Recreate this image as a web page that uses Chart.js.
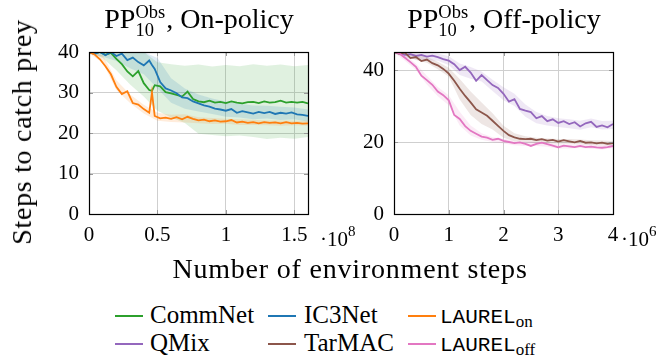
<!DOCTYPE html>
<html><head><meta charset="utf-8">
<script src="https://cdn.jsdelivr.net/npm/chart.js@4/dist/chart.umd.min.js"></script>
<style>
body{margin:0;width:665px;height:362px;background:#fff;position:relative;overflow:hidden;font-family:"Liberation Serif",serif;color:#000}
.cv{position:absolute;top:0}
.abs{position:absolute;white-space:nowrap;line-height:1}
.title{font-size:28px}
.ss{display:inline-block;font-size:0.66em;line-height:1;vertical-align:-8px;text-align:left;margin-right:1px}
.ss span{display:block}
.mult{font-size:21px}
.mult sup{font-size:15px;position:relative;top:-2px}
.leg{font-size:25px}
.lline{position:absolute;height:2px;width:28px}
.tt{font-family:"Liberation Mono",monospace;font-size:21px}
.tt sub{font-family:"Liberation Serif",serif;font-size:17px;position:relative;top:1px;vertical-align:-3px}
</style></head>
<body>
<canvas id="c1" class="cv" width="335" height="260" style="left:0"></canvas>
<canvas id="c2" class="cv" width="330" height="260" style="left:335px"></canvas>

<div class="abs title" style="left:199px;top:3px;transform:translateX(-50%)">PP<span class="ss"><span>Obs</span><span>10</span></span>, On-policy</div>
<div class="abs title" style="left:504px;top:3px;transform:translateX(-50%)">PP<span class="ss"><span>Obs</span><span>10</span></span>, Off-policy</div>

<div class="abs mult" style="left:320px;top:226px">·10<sup>8</sup></div>
<div class="abs mult" style="left:621px;top:226px">·10<sup>6</sup></div>

<div class="abs" style="font-size:28px;letter-spacing:0.8px;left:350px;top:255px;transform:translateX(-50%)">Number of environment steps</div>
<div class="abs" style="font-size:28px;letter-spacing:0.7px;left:22px;top:132px;transform:translate(-50%,-50%) rotate(-90deg)">Steps to catch prey</div>

<div class="lline" style="left:115px;top:315px;background:#2ca02c"></div>
<div class="abs leg" style="left:150px;top:302px">CommNet</div>
<div class="lline" style="left:268px;top:315px;background:#1f77b4"></div>
<div class="abs leg" style="left:304px;top:302px">IC3Net</div>
<div class="lline" style="left:408px;top:315px;background:#ff7f0e"></div>
<div class="abs leg" style="left:440px;top:302px"><span class="tt">LAUREL<sub>on</sub></span></div>

<div class="lline" style="left:115px;top:343px;background:#9467bd"></div>
<div class="abs leg" style="left:150px;top:330px">QMix</div>
<div class="lline" style="left:268px;top:343px;background:#8c564b"></div>
<div class="abs leg" style="left:304px;top:330px">TarMAC</div>
<div class="lline" style="left:408px;top:343px;background:#e377c2"></div>
<div class="abs leg" style="left:440px;top:330px"><span class="tt">LAUREL<sub>off</sub></span></div>

<script>
// ---------- Left panel: On-policy (x in units of 1e8 env steps) ----------
const leftX = [0,0.04,0.08,0.12,0.16,0.2,0.24,0.28,0.32,0.36,0.4,0.44,0.46,0.48,0.52,0.56,0.6,0.64,0.68,0.72,0.76,0.8,0.84,0.88,0.92,0.96,1,1.04,1.08,1.12,1.16,1.2,1.24,1.28,1.32,1.36,1.4,1.44,1.48,1.52,1.56,1.6];
const commNet = [40,39.6,40,39.3,39.8,38.3,37.0,35.2,34.0,35.3,32.3,30.6,30.4,31.8,31.5,30.1,29.8,29.4,29.0,30.2,28.4,27.8,27.6,28.0,27.5,27.7,27.4,27.8,27.5,27.3,27.6,27.7,27.4,27.8,27.5,27.6,28.0,27.5,27.7,27.5,27.7,27.3];
const ic3Net = [40,39.5,40,39.2,40,39.0,39.6,38.0,38.6,37.5,36.7,37.9,36.8,35.8,32.6,31.0,30.5,29.8,28.8,28.6,27.8,27.3,26.8,26.5,26.0,25.8,25.5,25.9,25.0,25.4,25.1,24.8,25.2,24.9,25.2,24.7,25.0,24.8,25.1,24.6,24.5,24.2];
const laurelOn = [40,39.4,38.2,36.5,34.5,31.4,29.6,30.3,27.4,27.0,25.9,25.0,30.0,24.2,23.6,23.8,23.5,23.9,23.4,24.0,23.5,23.1,23.3,22.9,23.1,22.8,22.9,23.2,22.6,22.8,22.5,22.7,22.4,22.7,22.5,22.6,22.4,22.7,22.4,22.5,22.3,22.4];

const bandXL = [0,0.1,0.2,0.3,0.4,0.5,0.6,0.7,0.8,0.9,1.0,1.1,1.2,1.3,1.4,1.5,1.6];
const commNetHi = [40,40,40,40,40,37.5,37.0,36.6,36.9,36.4,36.8,36.5,37.0,36.6,36.9,36.5,36.8];
const commNetLo = [40,38.5,35.5,32.0,29.0,25.5,23.8,22.5,19.8,19.5,19.2,19.4,19.0,18.5,18.8,18.6,19.0];
const ic3NetHi = [40,40,40,40,40,38.5,33.5,31.0,29.5,28.5,27.8,27.2,26.8,26.7,26.5,26.3,25.8];
const ic3NetLo = [39.5,38.8,37.8,36.0,34.5,31.0,27.5,26.0,25.3,24.7,24.0,23.8,23.4,23.6,23.2,23.4,22.8];
const laurelOnHi = [40,39.2,33.0,29.5,27.0,25.0,24.5,24.6,23.9,23.7,23.5,23.4,23.3,23.1,23.1,23.0,23.0];
const laurelOnLo = [39.6,37.4,30.6,27.4,24.8,23.0,22.7,22.6,22.4,22.2,22.3,22.0,22.0,21.9,21.8,21.9,21.8];

const xTicksL = [0,0.5,1,1.5];
const xTickLabelsL = ["0","0.5","1","1.5"];
const yTicksL = [0,10,20,30,40];
const yTickLabelsL = ["0","10","20","30","40"];

// ---------- Right panel: Off-policy (x in units of 1e6 env steps) ----------
const rightX = [0,0.1,0.2,0.3,0.4,0.5,0.6,0.7,0.8,0.9,1.0,1.1,1.2,1.3,1.4,1.5,1.6,1.7,1.8,1.9,2.0,2.1,2.2,2.3,2.4,2.5,2.6,2.7,2.8,2.9,3.0,3.1,3.2,3.3,3.4,3.5,3.6,3.7,3.8,3.9,4.0];
const qmix = [45,44.6,44.2,44.4,43.9,44.2,43.7,44.0,43.6,43.0,42.6,41.6,40.0,40.9,39.3,37.0,38.6,37.2,35.8,35.0,33.4,31.2,31.9,29.2,28.7,28.3,26.6,27.2,25.8,26.3,25.3,25.8,25.0,25.5,24.3,25.2,25.6,24.2,24.6,24.1,25.0];
const tarmac = [45,44.5,44.8,43.3,43.6,42.5,42.9,41.9,41.3,40.3,39.0,37.0,34.8,32.8,31.0,29.1,28.2,27.3,25.9,24.5,23.1,21.9,21.3,20.9,20.8,20.9,20.5,20.8,20.4,20.6,20.1,20.5,20.2,19.9,20.3,19.8,19.9,19.6,19.8,19.5,19.7];
const laurelOff = [45,44.6,43.4,42.2,40.9,38.4,37.2,35.9,34.0,33.0,31.6,27.5,26.4,24.4,23.1,22.3,21.5,21.2,20.6,20.9,20.3,20.0,19.7,19.9,19.5,18.9,19.5,19.8,19.4,19.0,18.5,19.0,18.8,18.6,18.9,18.6,18.7,18.5,18.4,18.6,18.9];

const bandXR = [0,0.2,0.4,0.6,0.8,1.0,1.2,1.4,1.6,1.8,2.0,2.2,2.4,2.6,2.8,3.0,3.2,3.4,3.6,3.8,4.0];
const qmixHi = [45,45,44.8,44.8,44.6,43.8,41.8,40.8,39.6,37.3,35.2,33.4,30.4,28.3,27.2,26.6,26.3,25.9,26.5,25.8,25.9];
const qmixLo = [44.5,43.5,43.0,42.7,42.6,41.4,38.6,37.6,36.8,34.2,31.6,30.0,27.0,25.2,24.6,24.2,23.8,23.4,24.1,23.5,23.6];
const tarmacHi = [45,45,44.3,43.7,42.3,40.6,37.5,34.0,31.0,28.0,24.5,22.4,21.6,21.2,21.0,20.8,20.8,20.7,20.5,20.4,20.3];
const tarmacLo = [44.6,44.0,42.8,42.0,40.2,38.2,31.8,27.5,25.0,23.5,21.2,20.2,20.0,19.8,19.7,19.5,19.5,19.4,19.2,19.1,19.0];
const laurelOffHi = [45,44.2,41.8,38.4,35.3,33.0,28.4,24.6,22.4,21.3,20.9,20.3,20.1,20.0,19.9,19.4,19.4,19.4,19.3,19.1,19.4];
const laurelOffLo = [44.8,42.6,40.0,36.0,32.7,30.2,24.6,21.8,20.6,20.0,19.6,19.1,18.9,18.9,18.7,18.2,18.2,18.3,18.1,17.9,18.3];

const xTicksR = [0,1,2,3,4];
const xTickLabelsR = ["0","1","2","3","4"];
const yTicksR = [0,20,40];
const yTickLabelsR = ["0","20","40"];

const COLORS = {green:'#2ca02c', blue:'#1f77b4', orange:'#ff7f0e', purple:'#9467bd', brown:'#8c564b', pink:'#e377c2'};
const FONT = "'Liberation Serif', serif";
Chart.defaults.font.family = FONT;

function pts(xs, ys){ return xs.map((x,i)=>({x:x, y:ys[i]})); }
function lineDs(xs, ys, color){
  return {data:pts(xs,ys), borderColor:color, borderWidth:1.8, pointRadius:0, fill:false, tension:0};
}
function bandDs(xs, hi, lo, rgba){
  return [
    {data:pts(xs,hi), borderWidth:0, pointRadius:0, fill:'+1', backgroundColor:rgba, borderColor:'rgba(0,0,0,0)'},
    {data:pts(xs,lo), borderWidth:0, pointRadius:0, fill:false, borderColor:'rgba(0,0,0,0)'}
  ];
}

const framePlugin = {
  id:'frame',
  afterDatasetsDraw(chart){
    const a = chart.chartArea, c = chart.ctx;
    c.save();
    c.strokeStyle = '#999'; c.lineWidth = 1;
    const xs = chart.scales.x, ys = chart.scales.y;
    xs.ticks.forEach(t=>{ const p = Math.round(xs.getPixelForValue(t.value))+0.5;
      c.beginPath(); c.moveTo(p,a.bottom); c.lineTo(p,a.bottom-4); c.moveTo(p,a.top); c.lineTo(p,a.top+4); c.stroke(); });
    ys.ticks.forEach(t=>{ const p = Math.round(ys.getPixelForValue(t.value))+0.5;
      c.beginPath(); c.moveTo(a.left,p); c.lineTo(a.left+4,p); c.moveTo(a.right,p); c.lineTo(a.right-4,p); c.stroke(); });
    c.strokeStyle = '#000'; c.lineWidth = 1.2;
    c.strokeRect(Math.round(a.left)+0.5, Math.round(a.top)+0.5, Math.round(a.right-a.left), Math.round(a.bottom-a.top));
    c.restore();
  }
};

function makeChart(id, datasets, xmax, ymax, xTicks, xLabels, yTicks, yLabels, yWidth, padRight){
  return new Chart(document.getElementById(id), {
    type:'line',
    data:{datasets:datasets},
    options:{
      responsive:false, animation:false, devicePixelRatio:1,
      layout:{padding:{top:52, right:padRight, left:0, bottom:0}},
      plugins:{legend:{display:false}, tooltip:{enabled:false}, title:{display:false}, filler:{drawTime:'beforeDatasetsDraw'}},
      scales:{
        x:{type:'linear', min:0, max:xmax,
           afterBuildTicks:s=>{ s.ticks = xTicks.map(v=>({value:v})); },
           afterFit:s=>{ s.height = 46; },
           ticks:{callback:(v,i)=>xLabels[i], font:{family:FONT,size:21}, color:'#000', padding:9, maxRotation:0, autoSkip:false},
           grid:{color:'#cfcfcf', lineWidth:1, drawTicks:false}, border:{display:false}},
        y:{type:'linear', min:0, max:ymax,
           afterBuildTicks:s=>{ s.ticks = yTicks.map(v=>({value:v})); },
           afterFit:s=>{ s.width = yWidth; },
           ticks:{callback:(v,i)=>yLabels[i], font:{family:FONT,size:21}, color:'#000', padding:10, autoSkip:false},
           grid:{color:'#cfcfcf', lineWidth:1, drawTicks:false}, border:{display:false}}
      }
    },
    plugins:[framePlugin]
  });
}

const leftSets = [
  lineDs(leftX, laurelOn, COLORS.orange),
  lineDs(leftX, ic3Net, COLORS.blue),
  lineDs(leftX, commNet, COLORS.green),
  ...bandDs(bandXL, laurelOnHi, laurelOnLo, 'rgba(255,127,14,0.15)'),
  ...bandDs(bandXL, ic3NetHi, ic3NetLo, 'rgba(31,119,180,0.15)'),
  ...bandDs(bandXL, commNetHi, commNetLo, 'rgba(44,160,44,0.15)')
];
const rightSets = [
  lineDs(rightX, laurelOff, COLORS.pink),
  lineDs(rightX, tarmac, COLORS.brown),
  lineDs(rightX, qmix, COLORS.purple),
  ...bandDs(bandXR, laurelOffHi, laurelOffLo, 'rgba(227,119,194,0.15)'),
  ...bandDs(bandXR, tarmacHi, tarmacLo, 'rgba(140,86,75,0.15)'),
  ...bandDs(bandXR, qmixHi, qmixLo, 'rgba(148,103,189,0.15)')
];

makeChart('c1', leftSets, 1.6, 40, xTicksL, xTickLabelsL, yTicksL, yTickLabelsL, 89, 27);
makeChart('c2', rightSets, 4, 45, xTicksR, xTickLabelsR, yTicksR, yTickLabelsR, 59, 52);
</script>
</body></html>
